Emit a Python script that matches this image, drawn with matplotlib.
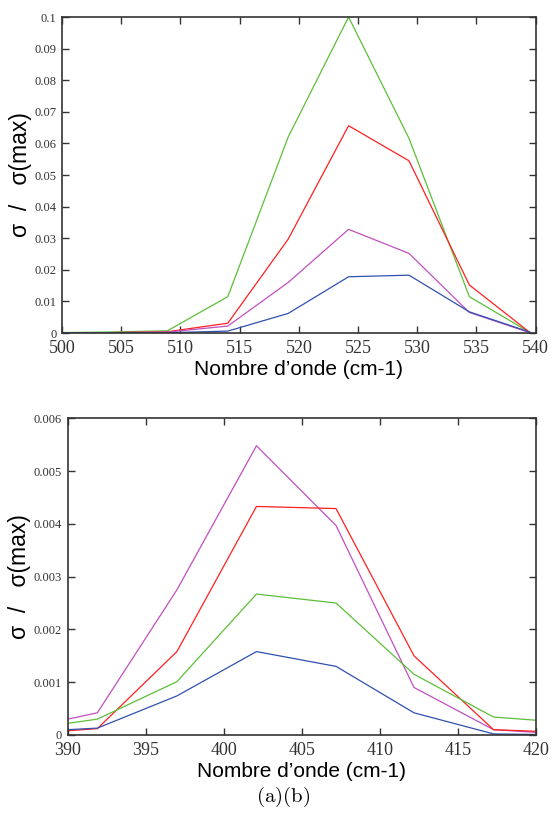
import numpy as np
import matplotlib.pyplot as plt
from matplotlib.ticker import FuncFormatter

plt.rcParams['mathtext.fontset'] = 'cm'

# --- (a) upper band ---
x_a = [498.7, 503.8, 508.9, 514.0, 519.1, 524.2, 529.3, 534.4, 539.5]
green_a = [0.0001, 0.0003, 0.0007, 0.0115, 0.0620, 0.1000, 0.0616, 0.0115, 0.0002]
red_a = [0.0000, 0.0001, 0.0004, 0.0031, 0.0297, 0.0656, 0.0545, 0.0152, 0.0002]
magenta_a = [0.0000, 0.0001, 0.0003, 0.0022, 0.0160, 0.0328, 0.0252, 0.0065, 0.0001]
blue_a = [0.0000, 0.0000, 0.0001, 0.0006, 0.0062, 0.0178, 0.0183, 0.0067, 0.0003]

# --- (b) lower band ---
x_b = [390.0, 391.9, 397.0, 402.1, 407.2, 412.2, 417.3, 420.0]
magenta_b = [0.00030, 0.00042, 0.00275, 0.00548, 0.00397, 0.00090, 0.00010, 0.00005]
red_b = [0.00008, 0.00012, 0.00158, 0.00433, 0.00429, 0.00150, 0.00010, 0.00007]
green_b = [0.00022, 0.00030, 0.00101, 0.00267, 0.00250, 0.00115, 0.00034, 0.00028]
blue_b = [0.00010, 0.00013, 0.00074, 0.00158, 0.00130, 0.00042, 0.00002, 0.00001]

colors = {'green': '#5cbf3a', 'red': '#ff2020', 'magenta': '#c050c0', 'blue': '#3050b0'}

fig = plt.figure(figsize=(5.55, 8.18), dpi=100)
ax1 = fig.add_axes([0.1117, 0.5929, 0.8535, 0.3863])
ax2 = fig.add_axes([0.122, 0.1015, 0.8432, 0.3871])

def style(ax):
    ax.tick_params(direction='in', top=True, right=True, length=5, width=1, colors='#333333')
    ax.tick_params(axis='x', labelsize=13, pad=5)
    ax.tick_params(axis='y', labelsize=9, pad=4)
    for lab in ax.get_xticklabels() + ax.get_yticklabels():
        lab.set_fontfamily('Liberation Serif')
    for s in ax.spines.values():
        s.set_linewidth(1.2)
        s.set_color('#333333')
    ax.set_xlabel('Nombre d\u2019onde (cm-1)', fontsize=15, family='Liberation Sans', labelpad=2)
    ax.set_ylabel('\u03c3  /   \u03c3(max)', fontsize=16.5, family='Liberation Sans', labelpad=2)
    ax.yaxis.set_major_formatter(FuncFormatter(lambda v, p: '%g' % round(v, 6)))

ax1.plot(x_a, green_a, color=colors['green'], lw=0.9)
ax1.plot(x_a, red_a, color=colors['red'], lw=0.9)
ax1.plot(x_a, magenta_a, color=colors['magenta'], lw=0.9)
ax1.plot(x_a, blue_a, color=colors['blue'], lw=0.9)
ax1.set_xlim(500, 540)
ax1.set_ylim(0, 0.1)
ax1.set_xticks(np.arange(500, 541, 5))
ax1.set_yticks(np.arange(0, 0.1001, 0.01))
style(ax1)

ax2.plot(x_b, magenta_b, color=colors['magenta'], lw=0.9)
ax2.plot(x_b, red_b, color=colors['red'], lw=0.9)
ax2.plot(x_b, green_b, color=colors['green'], lw=0.9)
ax2.plot(x_b, blue_b, color=colors['blue'], lw=0.9)
ax2.set_xlim(390, 420)
ax2.set_ylim(0, 0.006)
ax2.set_xticks(np.arange(390, 421, 5))
ax2.set_yticks(np.arange(0, 0.00601, 0.001))
style(ax2)

fig.text(0.51, 0.0257, r'$\mathrm{(a)(b)}$', ha='center', va='center', fontsize=15)

fig.savefig('out.png', dpi=100)
